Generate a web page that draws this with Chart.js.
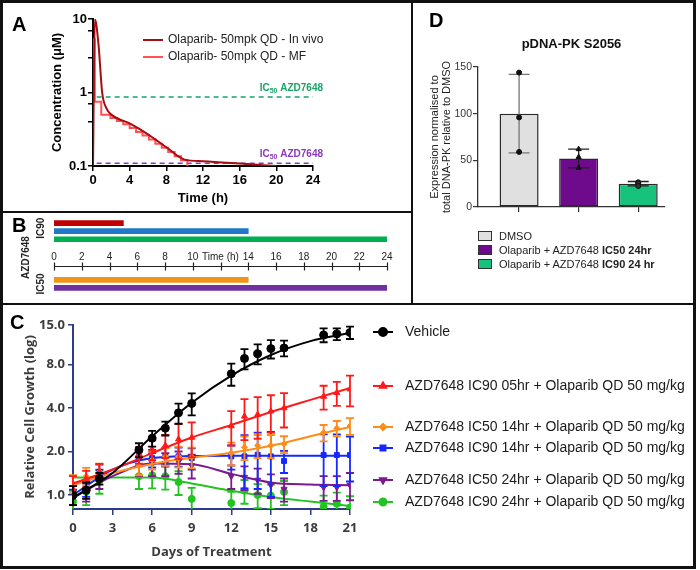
<!DOCTYPE html>
<html>
<head>
<meta charset="utf-8">
<script src="https://cdn.jsdelivr.net/npm/chart.js@4.4.0/dist/chart.umd.min.js"></script>
<style>
html, body { margin: 0; padding: 0; background: #fff; }
#fig { position: relative; width: 700px; height: 570px; overflow: hidden; font-family: 'Liberation Sans', Arial, sans-serif; }
canvas { position: absolute; }
.rule { position: absolute; background: #111; }
.letter { position: absolute; font: bold 20px/20px 'Liberation Sans', Arial, sans-serif; color: #000; }
#legD { position: absolute; left: 478px; top: 229px; font: 11px 'Liberation Sans', Arial, sans-serif; color: #222; }
#legD .row { height: 14px; display: flex; align-items: center; white-space: nowrap; }
#legD .box { width: 12px; height: 8px; border: 1px solid #333; margin-right: 7px; }
</style>
</head>
<body>
<div id="fig">
  <canvas id="chartA" width="407" height="208" style="left:3px;top:3px"></canvas>
  <canvas id="chartB" width="407" height="90" style="left:3px;top:213px"></canvas>
  <canvas id="chartD" width="280" height="300" style="left:413px;top:3px"></canvas>
  <canvas id="chartC" width="690" height="261" style="left:3px;top:305px"></canvas>
  <div id="legD"></div>

  <div class="rule" style="left:0;top:0;width:696px;height:3px"></div>
  <div class="rule" style="left:0;top:566px;width:696px;height:3px"></div>
  <div class="rule" style="left:0;top:0;width:3px;height:569px"></div>
  <div class="rule" style="left:693px;top:0;width:3px;height:569px"></div>
  <div class="rule" style="left:411px;top:0;width:2px;height:304px"></div>
  <div class="rule" style="left:0;top:211px;width:412px;height:2px"></div>
  <div class="rule" style="left:0;top:303px;width:696px;height:2px"></div>

  <div class="letter" style="left:12px;top:14px">A</div>
  <div class="letter" style="left:12px;top:215px">B</div>
  <div class="letter" style="left:10px;top:312px">C</div>
  <div class="letter" style="left:429px;top:10px">D</div>
</div>

<script>
// ---- A: olaparib PK ----
var pkTime    = [0, 0.2, 0.6, 1.0, 1.5, 2, 4, 6, 8, 10, 12, 16, 20];
var pkInVivo  = [0.1, 10, 4.5, 1.0, 0.6, 0.5, 0.38, 0.27, 0.18, 0.122, 0.116, 0.108, 0.1];
var mfTime    = [0, 0.2, 0.9, 1.9, 2.6, 3.3, 4.0, 4.7, 5.4, 6.1, 6.8, 7.5, 8.2, 8.9, 9.6, 10.3, 10.6];
var mfConc    = [0.1, 5.3, 0.75, 0.5, 0.45, 0.41, 0.37, 0.33, 0.29, 0.26, 0.23, 0.2, 0.177, 0.155, 0.136, 0.12, 0.09];
var icTime    = [0.4, 24];
var icGreen   = 0.87;
var icPurple  = 0.109;

// ---- B: dosing schedule ----
var bRegimens = ['IC90 05hr', 'IC90 14hr', 'IC90 24hr', 'IC50 14hr', 'IC50 24hr'];
var bStart    = [0, 0, 0, 0, 0];
var bEnd      = [5, 14, 24, 14, 24];
var bColors   = ['#c00000', '#1f78c8', '#00b050', '#ef9419', '#7030a0'];
var bTicks    = [0, 2, 4, 6, 8, 10, 12, 14, 16, 18, 20, 22, 24];
var bTickText = ['0', '2', '4', '6', '8', '10', 'Time (h)', '14', '16', '18', '20', '22', '24'];

// ---- C: growth curves ----
var days = [0, 1, 2, 5, 6, 7, 8, 9, 12, 13, 14, 15, 16, 19, 20, 21];
var fitDays = [0, 3, 6, 9, 12, 15, 18, 21];

var vehicle    = [1.0, 1.08, 1.30, 2.05, 2.47, 2.90, 3.70, 4.30, 6.90, 8.80, 9.50, 10.3, 10.4, 12.8, 13.0, 13.3];
var vehicleErr = [0.15, 0.14, 0.12, 0.23, 0.31, 0.32, 0.59, 0.75, 1.2, 1.4, 1.5, 1.5, 1.3, 1.4, 1.2, 1.3];
var vehicleFit = [0.96, 1.42, 2.55, 4.35, 6.7, 9.3, 11.6, 13.2];

var ic90h05    = [1.1, 1.30, 1.45, 1.90, 2.07, 2.20, 2.43, 2.50, 3.00, 3.50, 3.60, 3.80, 4.00, 4.80, 5.10, 5.40];
var ic90h05Err = [0.25, 0.17, 0.19, 0.25, 0.33, 0.40, 0.66, 0.68, 0.80, 1.10, 1.15, 1.10, 1.07, 0.90, 0.97, 1.30];
var ic90h05Fit = [1.2, 1.5, 1.95, 2.5, 3.05, 3.75, 4.55, 5.5];

var ic50h14    = [1.20, 1.35, 1.45, 1.60, 1.75, 1.85, 1.85, 1.83, 1.95, 2.14, 2.20, 2.20, 2.25, 2.70, 2.90, 3.00];
var ic50h14Err = [0.17, 0.19, 0.20, 0.23, 0.25, 0.26, 0.30, 0.30, 0.35, 0.40, 0.40, 0.40, 0.30, 0.35, 0.35, 0.40];
var ic50h14Fit = [1.17, 1.42, 1.64, 1.81, 1.96, 2.19, 2.55, 2.96];

var ic90h14    = [0.97, 1.10, 1.44, 1.83, 1.80, 1.85, 1.85, 1.80, 1.85, 1.85, 1.90, 1.85, 1.72, 1.89, 1.89, 1.89];
var ic90h14Err = [0.12, 0.13, 0.18, 0.25, 0.25, 0.28, 0.28, 0.30, 0.35, 0.74, 0.80, 0.88, 0.30, 0.74, 0.74, 0.65];
var ic90h14Fit = [1.0, 1.5, 1.8, 1.86, 1.87, 1.87, 1.87, 1.87];

var ic50h24    = [1.00, 1.05, 1.30, 1.60, 1.65, 1.65, 1.70, 1.60, 1.35, 1.33, 1.27, 1.17, 1.10, 1.13, 1.13, 1.17];
var ic50h24Err = [0.15, 0.15, 0.20, 0.25, 0.30, 0.30, 0.30, 0.30, 0.25, 0.25, 0.25, 0.22, 0.20, 0.22, 0.22, 0.25];
var ic50h24Fit = [0.95, 1.35, 1.65, 1.63, 1.4, 1.22, 1.18, 1.17];

var ic90h24    = [0.90, 1.05, 1.25, 1.35, 1.37, 1.35, 1.23, 0.94, 0.88, 1.07, 1.00, 0.99, 1.05, 0.83, 0.87, 0.82];
var ic90h24Err = [0.17, 0.20, 0.23, 0.25, 0.26, 0.26, 0.23, 0.18, 0.17, 0.20, 0.19, 0.19, 0.20, 0.16, 0.17, 0.16];
var ic90h24Fit = [1.32, 1.32, 1.32, 1.2, 1.07, 0.97, 0.9, 0.84];

// ---- D: pDNA-PK ----
var dGroups = ['DMSO', 'Olaparib + AZD7648', 'Olaparib + AZD7648'];
var dDose   = ['', 'IC50 24hr', 'IC90 24 hr'];
var dMean   = [100, 52, 25];
var dSD     = [42, 10, 2.3];
var dReps   = [[144, 96, 59], [62, 53.5, 42], [26.5, 25.5, 22.5]];
var dColors = ['#e0e0e0', '#6e0b8c', '#16c27c'];

Chart.defaults.font.family = "'Liberation Sans', Arial, sans-serif";
Chart.defaults.animation = false;

function pts(xs, ys) {
	return xs.map(function(x, i) { return { x: x, y: ys[i] }; });
}

function marker(ctx, style, r, rot, x, y) {
	ctx.beginPath();
	if (Chart.helpers && Chart.helpers.drawPoint) {
		Chart.helpers.drawPoint(ctx, { pointStyle: style, radius: r, rotation: rot, borderWidth: 1 }, x, y);
	} else {
		ctx.arc(x, y, r, 0, Math.PI * 2);
		ctx.fill();
	}
}

var errorBars = {
	id : 'errorBars',
	afterDatasetDraw : function(chart, args) {
		var ds = chart.data.datasets[args.index];
		if (!ds.errors) return;
		var ctx = chart.ctx, x = chart.scales.x, y = chart.scales.y, area = chart.chartArea;
		ctx.save();
		ctx.beginPath();
		ctx.rect(area.left - 10, area.top - 10, area.width + 20, area.height + 10);
		ctx.clip();
		ctx.lineWidth = ds.errorWidth || 1.5;
		var cap = ds.capWidth || 8;
		ds.data.forEach(function(p, j) {
			var e = ds.errors[j];
			if (e == null) return;
			var col = Array.isArray(ds.errorColor) ? ds.errorColor[j] : (ds.errorColor || ds.borderColor);
			ctx.strokeStyle = col;
			var px = x.getPixelForValue(p.x);
			var hi = y.getPixelForValue(p.y + e);
			var lo = y.getPixelForValue(Math.max(p.y - e, 0.01));
			ctx.beginPath();
			ctx.moveTo(px, hi); ctx.lineTo(px, lo);
			ctx.moveTo(px - cap / 2, hi); ctx.lineTo(px + cap / 2, hi);
			ctx.moveTo(px - cap / 2, lo); ctx.lineTo(px + cap / 2, lo);
			ctx.stroke();
		});
		ctx.restore();
	}
};

// ---------- Panel A ----------
var annotA = {
	id : 'annotA',
	afterDraw : function(chart) {
		var ctx = chart.ctx;
		ctx.save();
		ctx.font = "12px 'Liberation Sans', Arial";
		ctx.textBaseline = 'middle';
		ctx.textAlign = 'left';
		[0, 1].forEach(function(i, k) {
			var ds = chart.data.datasets[i];
			var yy = 37 + k * 17;
			ctx.strokeStyle = ds.borderColor;
			ctx.lineWidth = 2;
			ctx.beginPath(); ctx.moveTo(140, yy); ctx.lineTo(160, yy); ctx.stroke();
			ctx.fillStyle = '#222';
			ctx.fillText(ds.label, 165, yy);
		});
		// IC50 labels at right end of dashed lines
		var x = chart.scales.x, y = chart.scales.y;
		[[2, icGreen], [3, icPurple]].forEach(function(it) {
			var ds = chart.data.datasets[it[0]];
			var right = x.getPixelForValue(24) + 10;
			var yy = y.getPixelForValue(it[1]) - 9;
			ctx.fillStyle = ds.borderColor;
			ctx.textAlign = 'left';
			ctx.font = "bold 10px 'Liberation Sans', Arial";
			var w1 = ctx.measureText('IC').width, w3 = ctx.measureText(' AZD7648').width;
			ctx.font = "bold 7px 'Liberation Sans', Arial";
			var w2 = ctx.measureText('50').width;
			var x0 = right - w1 - w2 - w3;
			ctx.font = "bold 10px 'Liberation Sans', Arial";
			ctx.fillText('IC', x0, yy);
			ctx.fillText(' AZD7648', x0 + w1 + w2, yy);
			ctx.font = "bold 7px 'Liberation Sans', Arial";
			ctx.fillText('50', x0 + w1, yy + 3);
		});
		ctx.restore();
	}
};

new Chart(document.getElementById('chartA'), {
	type    : 'line',
	data    : {
		datasets : [
			{ label: 'Olaparib- 50mpk QD - In vivo', data: pts(pkTime, pkInVivo), borderColor: '#a50d12', borderWidth: 2, pointRadius: 0, cubicInterpolationMode: 'monotone' },
			{ label: 'Olaparib- 50mpk QD - MF', data: pts(mfTime, mfConc), borderColor: '#ff5252', borderWidth: 2, pointRadius: 0, stepped: 'after' },
			{ label: 'IC50 AZD7648', data: pts(icTime, [icGreen, icGreen]), borderColor: '#1aa36b', borderWidth: 1.5, borderDash: [5, 4], pointRadius: 0 },
			{ label: 'IC50 AZD7648', data: pts(icTime, [icPurple, icPurple]), borderColor: '#8a3ab9', borderWidth: 1.5, borderDash: [5, 4], pointRadius: 0 }
		]
	},
	options : {
		responsive : false,
		devicePixelRatio : 1,
		layout  : { padding: { left: 43, right: 97, top: 16, bottom: 1 } },
		plugins : { legend: { display: false }, tooltip: { enabled: false } },
		scales  : {
			x : {
				type   : 'linear', min: 0, max: 24,
				ticks  : { stepSize: 4, color: '#000', font: { weight: 'bold', size: 13 }, padding: 2, maxRotation: 0 },
				grid   : { drawOnChartArea: false, tickLength: 5, color: '#000', lineWidth: 1.5 },
				border : { color: '#000', width: 2 },
				title  : { display: true, text: 'Time (h)', color: '#000', font: { weight: 'bold', size: 13 }, padding: { top: 4, bottom: 4 } },
				afterFit : function(s) { s.height = 44; }
			},
			y : {
				type   : 'logarithmic', min: 0.1, max: 10,
				ticks  : {
					color: '#000', font: { weight: 'bold', size: 13 }, padding: 1,
					callback: function(v) {
						var hit = [0.1, 1, 10].filter(function(t) { return Math.abs(t - v) < t * 1e-6; });
						return hit.length ? String(hit[0]) : '';
					}
				},
				grid   : { drawOnChartArea: false, tickLength: 5, color: '#000', lineWidth: 1.5 },
				border : { color: '#000', width: 2 },
				title  : { display: true, text: 'Concentration (\u03bcM)', color: '#000', font: { weight: 'bold', size: 13 }, padding: { top: 4, bottom: 4 } },
				afterFit : function(s) { s.width = 47; }
			}
		}
	},
	plugins : [annotA]
});

// ---------- Panel B ----------
var bRows = bRegimens.slice(0, 3).concat(['', ' ', '  ', '   ']).concat(bRegimens.slice(3));
var bData = bRows.map(function(r) {
	var i = bRegimens.indexOf(r);
	return i < 0 ? null : [bStart[i], bEnd[i]];
});
var bCols = bRows.map(function(r) {
	var i = bRegimens.indexOf(r);
	return i < 0 ? 'rgba(0,0,0,0)' : bColors[i];
});

var timeAxisB = {
	id : 'timeAxisB',
	afterDraw : function(chart) {
		var ctx = chart.ctx, x = chart.scales.x, y = chart.scales.y;
		var ay = Math.round(y.getPixelForValue(5.3)) + 0.5;
		ctx.save();
		ctx.strokeStyle = '#222';
		ctx.lineWidth = 1.2;
		ctx.beginPath();
		ctx.moveTo(x.getPixelForValue(0), ay);
		ctx.lineTo(x.getPixelForValue(24), ay);
		bTicks.forEach(function(t) {
			var px = Math.round(x.getPixelForValue(t)) + 0.5;
			ctx.moveTo(px, ay - 4); ctx.lineTo(px, ay + 4);
		});
		ctx.stroke();
		ctx.fillStyle = '#222';
		ctx.font = "10px 'Liberation Sans', Arial";
		ctx.textAlign = 'center';
		ctx.textBaseline = 'middle';
		bTicks.forEach(function(t, i) {
			ctx.fillText(bTickText[i], x.getPixelForValue(t), ay - 9);
		});
		ctx.font = "bold 10px 'Liberation Sans', Arial";
		function vtext(txt, px, py) {
			ctx.save(); ctx.translate(px, py); ctx.rotate(-Math.PI / 2); ctx.fillText(txt, 0, 0); ctx.restore();
		}
		vtext('IC90', 38, y.getPixelForValue(1) - 3);
		vtext('IC50', 38, y.getPixelForValue(7.5));
		vtext('AZD7648', 23.5, (y.getPixelForValue(1) + y.getPixelForValue(7.5)) / 2);
		ctx.restore();
	}
};

new Chart(document.getElementById('chartB'), {
	type    : 'bar',
	data    : {
		labels   : bRows,
		datasets : [{ data: bData, backgroundColor: bCols, barThickness: 5, borderWidth: 0, borderSkipped: false }]
	},
	options : {
		indexAxis : 'y',
		responsive : false,
		devicePixelRatio : 1,
		layout  : { padding: { left: 51, right: 23, top: 6, bottom: 11 } },
		plugins : { legend: { display: false }, tooltip: { enabled: false } },
		scales  : {
			x : { type: 'linear', min: 0, max: 24, display: false },
			y : { type: 'category', display: false }
		}
	},
	plugins : [timeAxisB]
});

// ---------- Panel D ----------
new Chart(document.getElementById('chartD'), {
	type    : 'bar',
	data    : {
		datasets : [
			{ type: 'scatter', data: dReps[0].map(function(v) { return { x: 1, y: v }; }), pointStyle: 'circle', pointRadius: 2.5, backgroundColor: '#111', borderColor: '#111' },
			{ type: 'scatter', data: dReps[1].map(function(v) { return { x: 2, y: v }; }), pointStyle: 'triangle', pointRadius: 3, backgroundColor: '#111', borderColor: '#111' },
			{ type: 'scatter', data: dReps[2].map(function(v) { return { x: 3, y: v }; }), pointStyle: 'circle', pointRadius: 2.5, backgroundColor: '#333', borderColor: '#111' },
			{
				data : dMean.map(function(m, i) { return { x: i + 1, y: m }; }),
				backgroundColor : dColors,
				borderColor : '#2a2a2a',
				borderWidth : 1.5,
				borderSkipped : false,
				grouped : false,
				barPercentage : 0.9,
				maxBarThickness : 39,
				errors : dSD,
				errorColor : ['#777', '#222', '#222'],
				capWidth : 21,
				errorWidth : 1.3
			}
		]
	},
	options : {
		responsive : false,
		devicePixelRatio : 1,
		layout  : { padding: { left: 12, right: 28, top: 34, bottom: 86 } },
		plugins : {
			legend : { display: false },
			tooltip : { enabled: false },
			title  : { display: true, fullSize: false, text: 'pDNA-PK S2056', color: '#111', font: { weight: 'bold', size: 13 }, padding: { top: 0, bottom: 14.4 } }
		},
		scales  : {
			x : {
				type   : 'linear', min: 0.31, max: 3.45, offset: false,
				ticks  : { stepSize: 1, includeBounds: false, callback: function() { return ''; }, padding: 0 },
				grid   : { offset: false, drawOnChartArea: false, tickLength: 5, color: '#333', lineWidth: 1.2 },
				border : { color: '#333', width: 1.3 },
				afterFit : function(s) { s.height = 10; }
			},
			y : {
				min    : 0, max: 150,
				ticks  : { stepSize: 50, color: '#333', font: { size: 10.5 }, padding: 1 },
				grid   : { drawOnChartArea: false, tickLength: 5, color: '#333', lineWidth: 1.2 },
				border : { color: '#333', width: 1.3 },
				title  : { display: true, text: ['Expression normalised to', 'total DNA-PK relative to DMSO'], color: '#222', font: { size: 11, lineHeight: 1.1 }, padding: { top: 4, bottom: 0 } },
				afterFit : function(s) { s.width = 53; }
			}
		}
	},
	plugins : [errorBars]
});

var legD = document.getElementById('legD');
dGroups.forEach(function(g, i) {
	var row = document.createElement('div');
	row.className = 'row';
	var box = document.createElement('span');
	box.className = 'box';
	box.style.background = dColors[i];
	row.appendChild(box);
	var t = document.createElement('span');
	t.textContent = g + (dDose[i] ? ' ' : '');
	t.style.whiteSpace = 'pre';
	row.appendChild(t);
	if (dDose[i]) {
		var b = document.createElement('b');
		b.textContent = dDose[i];
		row.appendChild(b);
	}
	legD.appendChild(row);
});

// ---------- Panel C ----------
var cSeries = [
	{ name: 'Vehicle', vals: vehicle, err: vehicleErr, fit: vehicleFit, color: '#000000', style: 'circle', r: 4, rot: 0 },
	{ name: 'AZD7648 IC90 05hr + Olaparib QD 50 mg/kg', vals: ic90h05, err: ic90h05Err, fit: ic90h05Fit, color: '#ff1a1a', style: 'triangle', r: 3.5, rot: 0 },
	{ name: 'AZD7648 IC50 14hr + Olaparib QD 50 mg/kg', vals: ic50h14, err: ic50h14Err, fit: ic50h14Fit, color: '#ff8c1a', style: 'rectRot', r: 3, rot: 0 },
	{ name: 'AZD7648 IC90 14hr + Olaparib QD 50 mg/kg', vals: ic90h14, err: ic90h14Err, fit: ic90h14Fit, color: '#1428ff', style: 'rect', r: 3.5, rot: 0 },
	{ name: 'AZD7648 IC50 24hr + Olaparib QD 50 mg/kg', vals: ic50h24, err: ic50h24Err, fit: ic50h24Fit, color: '#7a1a8e', style: 'triangle', r: 3.5, rot: 180 },
	{ name: 'AZD7648 IC90 24hr + Olaparib QD 50 mg/kg', vals: ic90h24, err: ic90h24Err, fit: ic90h24Fit, color: '#22c322', style: 'circle', r: 3.5, rot: 0 }
];
var cLegendY = [27, 81, 122, 143, 175, 197];

var cDatasets = [];
cSeries.forEach(function(s) {
	cDatasets.push({
		label : s.name, data: pts(days, s.vals), showLine: false,
		pointStyle : s.style, pointRadius: s.r, pointRotation: s.rot,
		backgroundColor : s.color, borderColor: s.color, pointBorderWidth: 1,
		errors : s.err, capWidth: 8, errorWidth: 1.8
	});
	cDatasets.push({
		label : s.name + ' fit', data: pts(fitDays, s.fit), borderColor: s.color, borderWidth: 2,
		pointRadius : 0, cubicInterpolationMode: 'monotone'
	});
});

var legendC = {
	id : 'legendC',
	afterDraw : function(chart) {
		var ctx = chart.ctx;
		ctx.save();
		ctx.font = "14px 'Liberation Sans', Arial";
		ctx.textBaseline = 'middle';
		ctx.textAlign = 'left';
		cSeries.forEach(function(s, i) {
			var yy = cLegendY[i];
			ctx.strokeStyle = s.color;
			ctx.fillStyle = s.color;
			ctx.lineWidth = 2;
			ctx.beginPath(); ctx.moveTo(370, yy); ctx.lineTo(390, yy); ctx.stroke();
			marker(ctx, s.style, s.r, s.rot, 380, yy);
			ctx.fillStyle = '#1a1a1a';
			ctx.fillText(s.name, 402, yy);
		});
		ctx.restore();
	}
};

var axisC = '#2e3a8c';
new Chart(document.getElementById('chartC'), {
	type    : 'line',
	data    : { datasets: cDatasets },
	options : {
		responsive : false,
		devicePixelRatio : 1,
		layout  : { padding: { left: 15, right: 343, top: 20, bottom: 2 } },
		plugins : { legend: { display: false }, tooltip: { enabled: false } },
		scales  : {
			x : {
				type   : 'linear', min: 0, max: 21,
				ticks  : { stepSize: 3, color: '#3c3c3c', font: { family: "'Open Sans', sans-serif", weight: 'bold', size: 13 }, padding: 5, maxRotation: 0 },
				grid   : { drawOnChartArea: false, tickLength: 6, color: axisC, lineWidth: 1.5 },
				border : { color: axisC, width: 2 },
				title  : { display: true, text: 'Days of Treatment', color: '#3c3c3c', font: { family: "'Open Sans', sans-serif", weight: 'bold', size: 13 }, padding: { top: 4, bottom: 4 } },
				afterFit : function(s) { s.height = 55; }
			},
			y : {
				type   : 'logarithmic', min: 0.8, max: 15,
				afterBuildTicks : function(s) { s.ticks = [1, 2, 4, 8, 15].map(function(v) { return { value: v }; }); },
				ticks  : { color: '#3c3c3c', font: { family: "'Open Sans', sans-serif", weight: 'bold', size: 13 }, padding: 3, callback: function(v) { return Number(v).toFixed(1); } },
				grid   : { drawOnChartArea: false, tickLength: 5, color: axisC, lineWidth: 1.5 },
				border : { color: axisC, width: 2 },
				title  : { display: true, text: 'Relative Cell Growth (log)', color: '#3c3c3c', font: { family: "'Open Sans', sans-serif", weight: 'bold', size: 13 }, padding: { top: 4, bottom: 4 } },
				afterFit : function(s) { s.width = 55; }
			}
		}
	},
	plugins : [errorBars, legendC]
});
</script>
</body>
</html>
